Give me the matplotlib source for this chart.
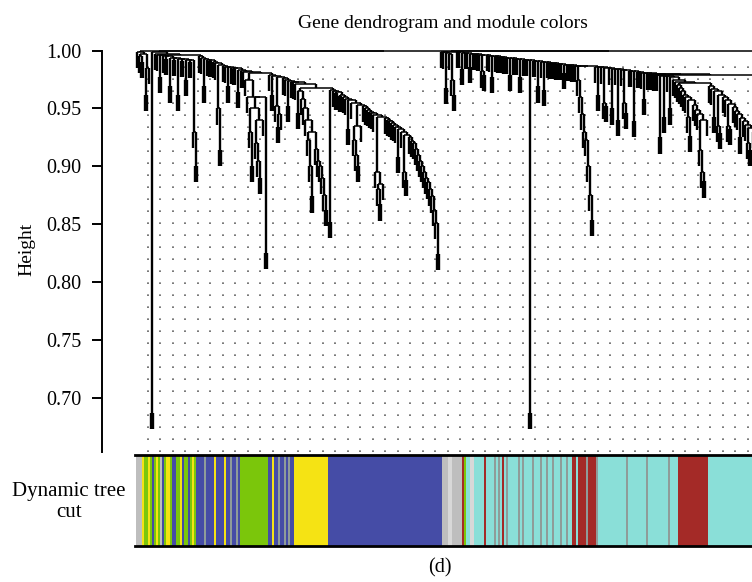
import numpy as np
import matplotlib.pyplot as plt

plt.rcParams['font.family'] = ['Liberation Serif', 'DejaVu Serif']

# Height at which each leaf joins its right-hand neighbour, read left to right
# off the picture (one value per neighbouring pair of leaves).
gaps_left_edge = [0.999, 0.995, 0.990, 0.997, 0.962, 0.985, 0.9996]
gaps_deep_drip = [0.687, 0.9985]
gaps_left_b1 = [0.997, 0.996, 0.977, 0.996, 0.995, 0.993, 0.995, 0.969, 0.994, 0.992,
                0.994, 0.962, 0.993, 0.991, 0.993, 0.975, 0.992, 0.990, 0.992, 0.930, 0.900]
gaps_left_b2 = [0.9965, 0.995, 0.994, 0.969, 0.993, 0.992, 0.991, 0.992, 0.990, 0.989,
                0.950, 0.914, 0.988]
gaps_left_b3 = [0.987, 0.986, 0.969, 0.986, 0.985, 0.984, 0.985, 0.964, 0.983, 0.982, 0.9815]
gaps_left_b4 = [0.975, 0.960, 0.930, 0.900, 0.950, 0.920, 0.905, 0.890, 0.940, 0.960, 0.825, 0.981]
gaps_left_b5 = [0.979, 0.962, 0.978, 0.952, 0.934, 0.945, 0.977, 0.976, 0.975, 0.952,
                0.974, 0.973, 0.9725]
gaps_left_b6 = [0.9715, 0.946, 0.965, 0.958, 0.950, 0.940, 0.923, 0.900, 0.874, 0.930,
                0.915, 0.905, 0.900, 0.890, 0.875, 0.862, 0.968]
gaps_left_b7 = [0.852, 0.966, 0.965, 0.963, 0.964, 0.961, 0.962, 0.960, 0.958, 0.932,
                0.957, 0.955, 0.923, 0.910, 0.900, 0.935, 0.953, 0.952, 0.950, 0.949,
                0.947, 0.946, 0.944, 0.895, 0.880, 0.867, 0.885, 0.943]
gaps_left_b8 = [0.942, 0.940, 0.939, 0.937, 0.936, 0.934, 0.908, 0.932, 0.930, 0.895,
                0.888, 0.927, 0.925, 0.922, 0.920, 0.915, 0.910, 0.905, 0.900, 0.895,
                0.890, 0.886, 0.880, 0.874, 0.862, 0.851, 0.824, 0.9994]
gaps_right_r0 = [0.999, 0.9985, 0.968, 0.998, 0.997, 0.975, 0.962, 0.9991]
gaps_right_r1 = [0.9988, 0.9986, 0.984, 0.9983, 0.9981, 0.9978, 0.986, 0.9975, 0.9972, 0.9970,
                 0.9967, 0.9965, 0.982, 0.979, 0.9962, 0.9960, 0.9957, 0.977, 0.9955, 0.9952,
                 0.9950, 0.9947, 0.9945, 0.9942, 0.9940, 0.9937, 0.979, 0.9935, 0.9932, 0.9930,
                 0.9927, 0.977, 0.9925, 0.9922, 0.9920, 0.9917, 0.687, 0.9915, 0.9912, 0.9910,
                 0.969, 0.9908, 0.9905, 0.966, 0.9902, 0.9900, 0.9897, 0.9895]
gaps_right_r2 = [0.9893, 0.9890, 0.9888, 0.9885, 0.9883, 0.981, 0.9880, 0.9878, 0.9875, 0.9873,
                 0.9870, 0.9868, 0.975, 0.960, 0.945, 0.930, 0.923, 0.900, 0.875, 0.854, 0.9865]
gaps_right_r3 = [0.9862, 0.962, 0.9858, 0.9855, 0.955, 0.952, 0.9850, 0.9847, 0.950, 0.9843,
                 0.9840, 0.940, 0.9837, 0.9833, 0.955, 0.946, 0.9830, 0.9826, 0.9823, 0.939,
                 0.9820, 0.9816, 0.9813, 0.9810, 0.958, 0.9806, 0.9803, 0.9800, 0.9797, 0.9794,
                 0.9790, 0.9787, 0.925, 0.9784, 0.943, 0.9781, 0.9778, 0.950, 0.9772]
gaps_right_p = [0.975, 0.973, 0.970, 0.968, 0.965, 0.962, 0.960, 0.943, 0.926, 0.957,
                0.953, 0.949, 0.945, 0.914, 0.895, 0.887, 0.940, 0.972]
gaps_right_q = [0.969, 0.967, 0.943, 0.965, 0.935, 0.929, 0.962, 0.960, 0.957, 0.935,
                0.932, 0.954, 0.951, 0.948, 0.945, 0.925, 0.942, 0.939, 0.936, 0.920,
                0.914, 0.933, 0.930, 0.927, 0.922, 0.918, 0.9792]
# the tree goes on past the right edge of the picture
gaps_offscreen = [0.950, 0.9993, 0.960]

# module colour of each leaf, as runs (module, number of leaves)
module_runs = [
    ('grey', 3), ('yellow', 1), ('green', 2), ('yellow', 1), ('green', 1), ('blue', 1),
    ('green', 1), ('yellow', 1), ('green', 1), ('grey', 1), ('blue', 1), ('green', 1),
    ('yellow', 2), ('green', 1), ('blue', 2), ('green', 2), ('yellow', 1), ('blue', 1),
    ('green', 2), ('blue', 1), ('green', 1), ('yellow', 1), ('green', 1), ('blue', 2),
    ('blue', 2), ('grey60', 1), ('blue', 4), ('yellow', 1), ('blue', 4), ('yellow', 1),
    ('blue', 2), ('grey60', 1), ('blue', 2), ('grey60', 1), ('blue', 1),
    ('green', 14),
    ('blue', 2), ('yellow', 1), ('blue', 2), ('grey60', 1), ('blue', 2), ('grey60', 1),
    ('blue', 1), ('grey60', 1), ('blue', 2),
    ('yellow', 17), ('blue', 57),
    ('grey', 3), ('lightgrey', 2), ('grey', 5), ('brown', 1), ('green', 1),
    ('turquoise', 2), ('lightgrey', 2), ('turquoise', 5), ('brown', 1), ('turquoise', 4),
    ('grey60', 1), ('turquoise', 1), ('grey60', 1), ('turquoise', 1), ('brown', 1),
    ('turquoise', 1), ('grey60', 1), ('turquoise', 5), ('grey60', 1), ('turquoise', 1),
    ('grey60', 1), ('turquoise', 4), ('grey60', 1), ('turquoise', 3), ('grey60', 1),
    ('turquoise', 2), ('grey60', 1), ('turquoise', 2), ('grey60', 1), ('turquoise', 3),
    ('grey60', 1), ('turquoise', 2), ('grey60', 1), ('turquoise', 2), ('brown', 2),
    ('turquoise', 1), ('brown', 4), ('grey60', 1), ('brown', 4), ('grey60', 1),
    ('turquoise', 14), ('grey60', 1), ('turquoise', 9), ('grey60', 1), ('turquoise', 10),
    ('grey60', 1), ('turquoise', 4), ('brown', 15), ('turquoise', 31),
]

module_colors = {
    'grey': '#BEBEBE', 'grey60': '#8F9C99', 'lightgrey': '#D8D8D8',
    'yellow': '#F5E314', 'green': '#7BC60B', 'blue': '#454CA6',
    'turquoise': '#8ADFD8', 'brown': '#A42A27',
}

HANG = 0.014


def build_tree(gaps, lo, hi, vsegs, hsegs):
    # split a run of leaves at its largest gap, as hclust would have merged it
    if lo == hi:
        return float(lo), None
    k = lo + int(np.argmax(gaps[lo:hi]))
    h = gaps[k]
    left = build_tree(gaps, lo, k, vsegs, hsegs)
    right = build_tree(gaps, k + 1, hi, vsegs, hsegs)
    for x, child_h in (left, right):
        vsegs.append((x, h - HANG if child_h is None else child_h, h))
    hsegs.append((h, left[0], right[0]))
    return (left[0] + right[0]) / 2, h


def main():
    gaps = np.array(gaps_left_edge + gaps_deep_drip + gaps_left_b1 + gaps_left_b2 + gaps_left_b3
                    + gaps_left_b4 + gaps_left_b5 + gaps_left_b6 + gaps_left_b7 + gaps_left_b8
                    + gaps_right_r0 + gaps_right_r1 + gaps_right_r2 + gaps_right_r3
                    + gaps_right_p + gaps_right_q + gaps_offscreen)
    n_leaves = len(gaps) + 1
    leaf_modules = [name for name, count in module_runs for _ in range(count)]
    leaf_modules = (leaf_modules + ['turquoise'] * n_leaves)[:n_leaves]

    vsegs, hsegs = [], []
    build_tree(gaps, 0, n_leaves - 1, vsegs, hsegs)
    vsegs = np.array(vsegs)
    hsegs = np.array(hsegs)

    fig = plt.figure(figsize=(7.52, 5.82), dpi=100)
    x0, x1 = -0.75, -0.75 + 617 / 2

    ax = fig.add_axes([135 / 752, 130 / 582, 617 / 752, 406 / 582])
    ax.set_xlim(x0, x1)
    ax.set_ylim(0.653, 1.004)

    # dotted background seen in the scan
    dot_x = np.arange(5.6, x1, 6.25)
    ax.vlines(dot_x, 0.653, 0.992, colors='0.38', linewidth=1.2,
              linestyles=[(0, (1, 6.2))], zorder=0)

    ax.vlines(vsegs[:, 0], vsegs[:, 1], vsegs[:, 2], colors='black', linewidth=1.7, zorder=2)
    ax.hlines(hsegs[:, 0], hsegs[:, 1], hsegs[:, 2], colors='black', linewidth=1.1, zorder=2)

    for side in ('top', 'right', 'bottom'):
        ax.spines[side].set_visible(False)
    ax.spines['left'].set_position(('outward', 24))
    ax.spines['left'].set_bounds(0.653, 1.0)
    ax.spines['left'].set_linewidth(1.4)
    ax.set_xticks([])
    ax.set_yticks(np.round(np.arange(0.70, 1.001, 0.05), 2))
    ax.set_yticklabels([f'{v:.2f}' for v in ax.get_yticks()])
    ax.tick_params(axis='y', length=7.5, width=1.4, labelsize=14.5, pad=7)
    ax.set_ylabel('Height', fontsize=14, labelpad=8)

    axc = fig.add_axes([135 / 752, 36 / 582, 617 / 752, 91 / 582])
    axc.bar(np.arange(n_leaves), 1.0, width=1.0, color=[module_colors[m] for m in leaf_modules],
            linewidth=0, align='center')
    axc.set_xlim(x0, x1)
    axc.set_ylim(0, 1)
    axc.set_xticks([])
    axc.set_yticks([])
    for side in ('left', 'right'):
        axc.spines[side].set_visible(False)
    for side in ('top', 'bottom'):
        axc.spines[side].set_linewidth(2.0)

    fig.text(443 / 752, 1 - 23 / 582, 'Gene dendrogram and module colors', ha='center', va='center',
             fontsize=14)
    fig.text(69 / 752, 1 - 502 / 582, 'Dynamic tree\ncut', ha='center', va='center', fontsize=15,
             linespacing=1.15)
    fig.text(440 / 752, 1 - 568 / 582, '(d)', ha='center', va='center', fontsize=14.5)

    fig.savefig('out.png', dpi=100)
    plt.close(fig)


if __name__ == '__main__':
    main()
